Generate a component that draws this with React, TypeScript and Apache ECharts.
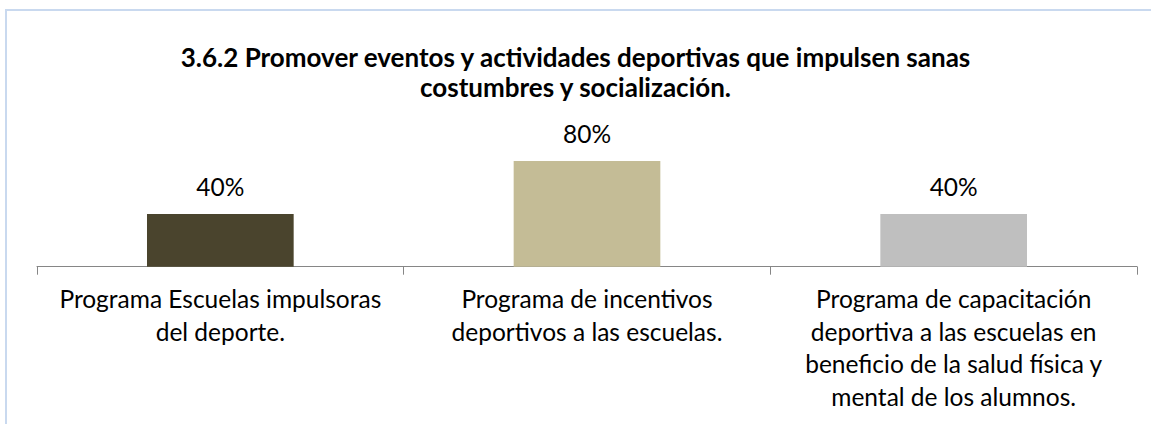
import React, { useEffect, useRef } from "react";
import * as echarts from "echarts";

const titleText = "3.6.2 Promover eventos y actividades deportivas que impulsen sanas\ncostumbres y socialización.";
const categories = [
  "Programa Escuelas impulsoras\ndel deporte.",
  "Programa de incentivos\ndeportivos a las escuelas.",
  "Programa de capacitación\ndeportiva a las escuelas en\nbeneficio de la salud física y\nmental de los alumnos.",
];
const values = [0.4, 0.8, 0.4];
const barColors = ["#4a442d", "#c4bc96", "#bfbfbf"];

const FONT = "Lato, 'Open Sans', sans-serif";

export default function App() {
  const ref = useRef<HTMLDivElement>(null);
  useEffect(() => {
    document.body.style.margin = "0";
    const chart = echarts.init(ref.current!, undefined, { renderer: "svg" });
    chart.setOption({
      animation: false,
      backgroundColor: "#ffffff",
      textStyle: { fontFamily: FONT },
      title: {
        text: titleText,
        left: "center",
        top: 37,
        textStyle: {
          fontFamily: FONT,
          fontWeight: "bold",
          fontSize: 26,
          lineHeight: 30,
          color: "#000000",
          align: "center",
        },
      },
      graphic: [
        {
          type: "rect",
          shape: { x: 6, y: 10, width: 1300, height: 600 },
          style: { fill: "none", stroke: "#c9d9ef", lineWidth: 2 },
          silent: true,
          z: -1,
        },
      ],
      grid: { left: 37, right: 14, top: 134.7, bottom: 157.3, containLabel: false },
      xAxis: {
        type: "category",
        data: categories,
        axisLine: { lineStyle: { color: "#868686", width: 1 } },
        axisTick: { show: true, length: 8, lineStyle: { color: "#868686" } },
        axisLabel: {
          interval: 0,
          color: "#000000",
          fontFamily: FONT,
          fontSize: 24.5,
          lineHeight: 32.5,
          margin: 16,
          align: "center",
        },
      },
      yAxis: { type: "value", min: 0, max: 1, show: false, splitLine: { show: false } },
      series: [
        {
          type: "bar",
          barWidth: "40%",
          data: values.map((v, i) => ({ value: v, itemStyle: { color: barColors[i] } })),
          label: {
            show: true,
            position: "top",
            distance: 15,
            color: "#000000",
            fontFamily: FONT,
            fontSize: 24.5,
            formatter: (p: any) => Math.round(p.value * 100) + "%",
          },
        },
      ],
    });
    return () => chart.dispose();
  }, []);
  return <div ref={ref} style={{ width: 1151, height: 424 }} />;
}
